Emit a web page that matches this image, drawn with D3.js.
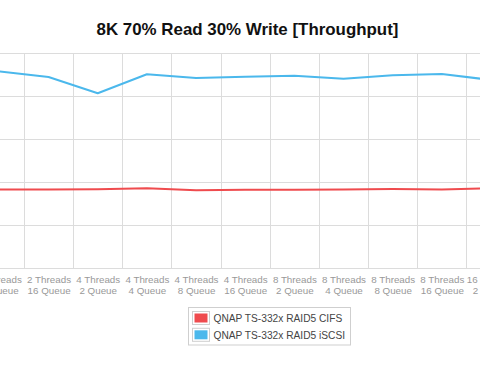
<!DOCTYPE html>
<html>
<head>
<meta charset="utf-8">
<script src="https://cdn.jsdelivr.net/npm/d3@7"></script>
<style>
  html, body { margin: 0; padding: 0; background: #fff; }
  svg { display: block; }
  text { font-family: "Helvetica Neue", Helvetica, Arial, "Liberation Sans", sans-serif; }
</style>
</head>
<body>
<svg id="chart" width="480" height="371"></svg>
<script>
const title = "8K 70% Read 30% Write [Throughput]";
const categories = [
  ["2 Threads", "8 Queue"],
  ["2 Threads", "16 Queue"],
  ["4 Threads", "2 Queue"],
  ["4 Threads", "4 Queue"],
  ["4 Threads", "8 Queue"],
  ["4 Threads", "16 Queue"],
  ["8 Threads", "2 Queue"],
  ["8 Threads", "4 Queue"],
  ["8 Threads", "8 Queue"],
  ["8 Threads", "16 Queue"],
  ["16 Threads", "2 Queue"]
];
const seriesNames = ["QNAP TS-332x RAID5 CIFS", "QNAP TS-332x RAID5 iSCSI"];
const cifsValues  = [91.5, 91.5, 91.8, 93.0, 90.7, 91.3, 91.2, 91.7, 92.1, 91.6, 93.0];
const iscsiValues = [228.8, 222.4, 203.5, 225.6, 221.3, 222.8, 224.0, 220.5, 224.4, 225.9, 219.0];
const yTicks = [0, 50, 100, 150, 200, 250];
const colors = ["#ef4b4e", "#4bb8ec"];

const svg = d3.select("#chart");
const keys = categories.map(c => c.join(" "));

const x = d3.scalePoint().domain(keys).range([-0.6, 491]);
const step = x.step();
const y = d3.scaleLinear().domain([0, 250]).range([268.3, 53.3]);

// title
svg.append("text")
  .attr("x", 247.5).attr("y", 34.5)
  .attr("text-anchor", "middle")
  .attr("font-size", 16.9).attr("font-weight", "bold")
  .attr("fill", "#111")
  .text(title);

// horizontal grid
const grid = svg.append("g");
grid.selectAll("line.h").data(yTicks).join("line")
  .attr("x1", 0).attr("x2", 480)
  .attr("y1", d => Math.round(y(d)) + 0.5).attr("y2", d => Math.round(y(d)) + 0.5)
  .attr("stroke", "#dcdcdc").attr("stroke-width", 1);

// vertical grid between categories
grid.selectAll("line.v").data(keys.slice(1)).join("line")
  .attr("x1", d => Math.round(x(d) - step / 2) + 0.5)
  .attr("x2", d => Math.round(x(d) - step / 2) + 0.5)
  .attr("y1", y(250)).attr("y2", y(0))
  .attr("stroke", "#dcdcdc").attr("stroke-width", 1);

// x axis labels
const xAxis = d3.axisBottom(x).tickSize(0).tickFormat("");
const ax = svg.append("g").attr("transform", `translate(0,${y(0)})`).call(xAxis);
ax.select(".domain").remove();
ax.selectAll(".tick").each(function(d, i) {
  const t = d3.select(this).append("text")
    .attr("text-anchor", "middle")
    .attr("font-size", 9.8)
    .attr("fill", "#999");
  t.append("tspan").attr("x", 0).attr("y", 14.5).text(categories[i][0]);
  t.append("tspan").attr("x", 0).attr("y", 26).text(categories[i][1]);
});

// lines
const line = d3.line().x((d, i) => x(keys[i])).y(d => y(d));
[cifsValues, iscsiValues].forEach((vals, s) => {
  svg.append("path")
    .datum(vals)
    .attr("d", line)
    .attr("fill", "none")
    .attr("stroke", colors[s])
    .attr("stroke-width", 2)
    .attr("stroke-linejoin", "round");
});

// legend
const lg = svg.append("g");
lg.append("rect")
  .attr("x", 188.5).attr("y", 307.5).attr("width", 162).attr("height", 37.5)
  .attr("fill", "#fff").attr("stroke", "#cfcfcf");
seriesNames.forEach((name, i) => {
  const yy = 311 + i * 16.8;
  lg.append("rect")
    .attr("x", 192.5).attr("y", yy + 0.5).attr("width", 17).attr("height", 13)
    .attr("fill", "#fff").attr("stroke", "#cfcfcf");
  lg.append("rect")
    .attr("x", 194.5).attr("y", yy + 2.5).attr("width", 13).attr("height", 9)
    .attr("fill", colors[i]);
  lg.append("text")
    .attr("x", 213.5).attr("y", yy + 11)
    .attr("font-size", 10.2).attr("fill", "#444")
    .text(name);
});
</script>
</body>
</html>
